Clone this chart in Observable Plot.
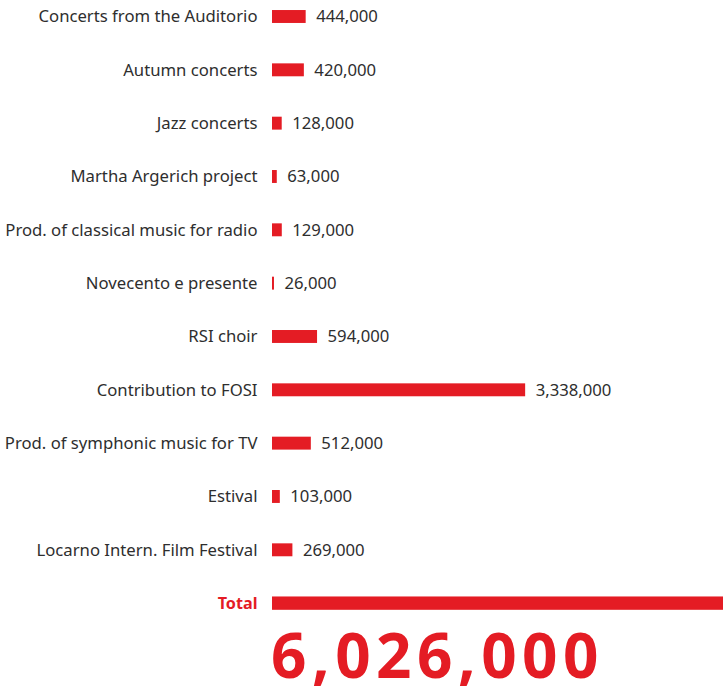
<!DOCTYPE html>
<html>
<head>
<meta charset="utf-8">
<script src="https://cdn.jsdelivr.net/npm/d3@7"></script>
<script src="https://cdn.jsdelivr.net/npm/@observablehq/plot@0.6"></script>
<style>
  html, body { margin: 0; padding: 0; background: #fff; overflow: hidden; width: 723px; height: 686px; }
  #chart { position: relative; width: 723px; height: 686px; }
  #chart svg { position: absolute; left: 0; top: 0; overflow: hidden; }
  #big { position: absolute; left: 271px; top: 625px; font-family: "Open Sans", sans-serif; font-weight: 700; font-size: 62px; line-height: 58px; color: #e41c24; letter-spacing: 5.5px; white-space: nowrap; }
</style>
</head>
<body>
<div id="chart"></div>
<script>
const categories = [
  "Concerts from the Auditorio",
  "Autumn concerts",
  "Jazz concerts",
  "Martha Argerich project",
  "Prod. of classical music for radio",
  "Novecento e presente",
  "RSI choir",
  "Contribution to FOSI",
  "Prod. of symphonic music for TV",
  "Estival",
  "Locarno Intern. Film Festival"
];
const values = [444000, 420000, 128000, 63000, 129000, 26000, 594000, 3338000, 512000, 103000, 269000];
const totalLabel = "Total";
const totalValue = 6026000;

const red = "#e41c24";
const textColor = "#2e2e2e";
const fmt = d3.format(",");

const rows = categories.map((c, i) => ({name: c, value: values[i]}));
const totalRow = [{name: totalLabel, value: totalValue}];
const domainY = [...categories, totalLabel];

const plot = Plot.plot({
  width: 723,
  height: 630,
  marginLeft: 272,
  marginRight: 0,
  marginTop: 0,
  marginBottom: 0,
  style: {background: "transparent", fontFamily: "'Noto Sans', sans-serif"},
  x: {domain: [0, totalValue], range: [272, 729], axis: null},
  y: {type: "band", domain: domainY, range: [-10.17, 629.8], padding: 0, round: false, axis: null},
  marks: [
    Plot.barX(rows, {x: "value", y: "name", fill: red, insetTop: 20.2, insetBottom: 20.2}),
    Plot.barX(totalRow, {x: "value", y: "name", fill: red, insetTop: 20, insetBottom: 20}),
    Plot.text(rows, {x: 0, y: "name", text: "name", textAnchor: "end", dx: -15, fill: textColor, fontSize: 16.7}),
    Plot.text(rows, {x: "value", y: "name", text: d => fmt(d.value), textAnchor: "start", dx: 10, fill: textColor, fontSize: 16.7}),
    Plot.text(totalRow, {x: 0, y: "name", text: "name", textAnchor: "end", dx: -15, fill: red, fontSize: 16.2, fontWeight: "bold"})
  ]
});
document.getElementById("chart").appendChild(plot);
const big = document.createElement("div");
big.id = "big";
big.textContent = fmt(totalValue);
document.getElementById("chart").appendChild(big);
</script>
</body>
</html>
